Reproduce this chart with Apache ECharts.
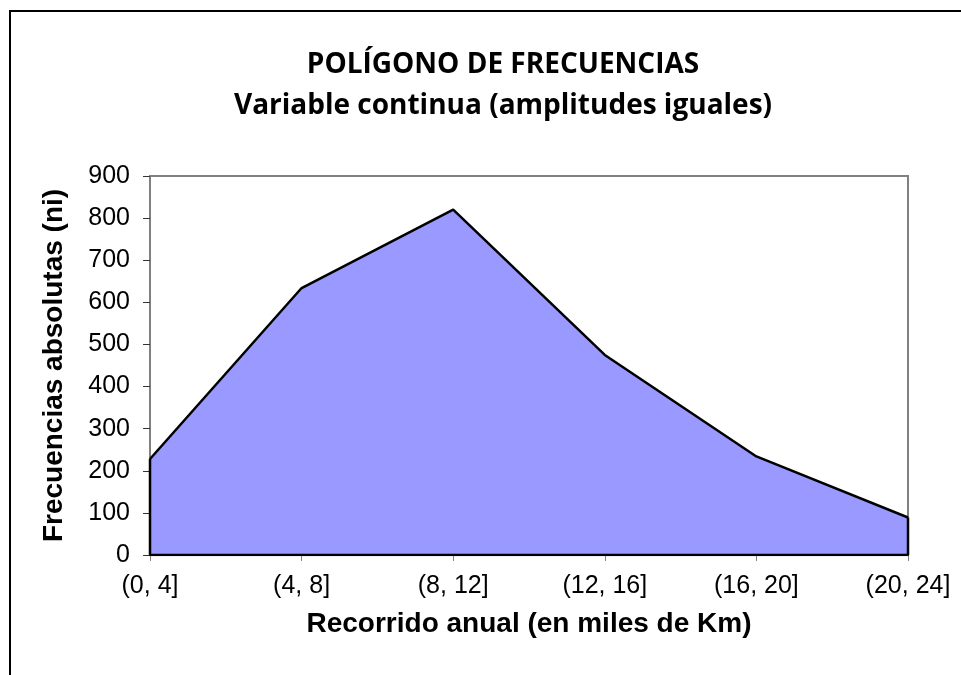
<!DOCTYPE html>
<html>
<head>
<meta charset="utf-8">
<script src="https://cdn.jsdelivr.net/npm/echarts@6/dist/echarts.min.js"></script>
<style>
  html, body { margin: 0; padding: 0; background: #fff; }
  #poligono { width: 961px; height: 675px; }
</style>
</head>
<body>
<div id="poligono"></div>
<script>
  // clases (miles de Km) y frecuencias absolutas
  var categorias = ['(0, 4]', '(4, 8]', '(8, 12]', '(12, 16]', '(16, 20]', '(20, 24]'];
  var frecuencias = [228, 634, 820, 475, 234, 89];
  var yTicks = [0, 100, 200, 300, 400, 500, 600, 700, 800, 900];

  var ultimo = categorias.length - 1;
  var puntos = frecuencias.map(function (v, i) { return [i, v]; });
  // cierre del poligono: bajada final, base y subida inicial
  var cierre = [[ultimo, frecuencias[ultimo]], [ultimo, 0], [0, 0], [0, frecuencias[0]]];

  var chart = echarts.init(document.getElementById('poligono'));
  var option = {
    animation: false,
    title: {
      text: '{a|POLÍGONO DE FRECUENCIAS}\n{b|Variable continua (amplitudes iguales)}',
      left: 498,
      textAlign: 'center',
      top: 40,
      textStyle: {
        rich: {
          a: { fontFamily: 'Open Sans', fontWeight: 'bold', fontSize: 28, lineHeight: 41, color: '#000' },
          b: { fontFamily: 'Open Sans', fontWeight: 'bold', fontSize: 28, lineHeight: 41, color: '#000' }
        }
      }
    },
    graphic: [{
      type: 'polyline',       // marco exterior del grafico
      shape: { points: [[10, 675], [10, 11], [961, 11]] },
      style: { stroke: '#000', lineWidth: 2, fill: null }
    }],
    grid: {
      left: 150,
      top: 176,
      right: 53,
      bottom: 120,
      show: true,
      borderColor: '#808080',
      borderWidth: 2
    },
    xAxis: {
      type: 'value',
      min: 0,
      max: ultimo,
      interval: 1,
      name: 'Recorrido anual (en miles de Km)',
      nameLocation: 'middle',
      nameGap: 55,
      nameTextStyle: {
        fontFamily: 'Liberation Sans',
        fontWeight: 'bold',
        fontSize: 28,
        color: '#000'
      },
      splitLine: { show: false },
      axisLine: { lineStyle: { color: '#808080', width: 2 } },
      axisTick: { length: 6, lineStyle: { color: '#808080' } },
      axisLabel: {
        margin: 19,
        fontFamily: 'Liberation Sans',
        fontSize: 25,
        color: '#000',
        formatter: function (v) { return categorias[v]; }
      }
    },
    yAxis: {
      type: 'value',
      min: yTicks[0],
      max: yTicks[yTicks.length - 1],
      interval: 100,
      name: 'Frecuencias absolutas (ni)',
      nameLocation: 'middle',
      nameGap: 82,
      nameTextStyle: {
        fontFamily: 'Liberation Sans',
        fontWeight: 'bold',
        fontSize: 28,
        color: '#000'
      },
      splitLine: { show: false },
      axisLine: { show: true, lineStyle: { color: '#808080', width: 2 } },
      axisTick: { show: true, length: 7, lineStyle: { color: '#333' } },
      axisLabel: {
        margin: 20,
        fontFamily: 'Liberation Sans',
        fontSize: 25,
        color: '#000'
      }
    },
    series: [
      {
        name: 'Frecuencias absolutas (ni)',
        type: 'line',
        data: puntos,
        symbol: 'none',
        lineStyle: { color: '#000', width: 2.5 },
        areaStyle: { color: '#9999FF', opacity: 1 },
        z: 3
      },
      {
        type: 'line',
        data: cierre,
        symbol: 'none',
        lineStyle: { color: '#000', width: 2.5 },
        z: 4
      }
    ]
  };
  chart.setOption(option);
</script>
</body>
</html>
